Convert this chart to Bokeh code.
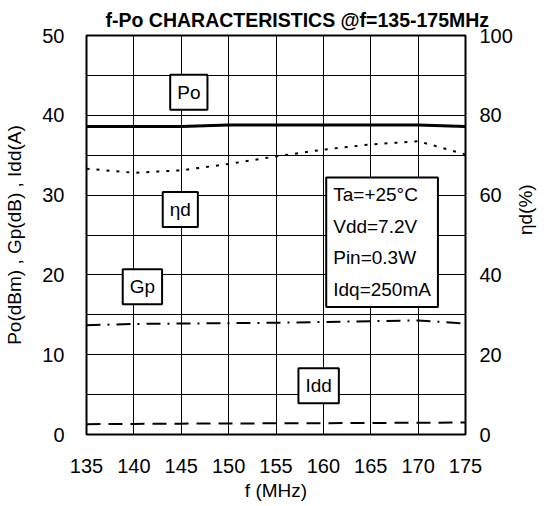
from bokeh.plotting import figure
from bokeh.models import Range1d, LinearAxis, FixedTicker, Label
from bokeh.embed import file_html
from bokeh.resources import INLINE
import math

# Frequency sweep (MHz)
freq = [135, 140, 145, 150, 155, 160, 165, 170, 175]
# Output power (dBm)
po = [38.6, 38.6, 38.6, 38.8, 38.8, 38.8, 38.8, 38.8, 38.6]
# Drain efficiency (%)
eta = [66.6, 65.6, 66.2, 67.8, 69.7, 71.4, 72.7, 73.5, 70.2]
# Power gain (dB)
gp = [13.7, 13.85, 13.9, 13.95, 14.0, 14.1, 14.2, 14.3, 13.9]
# Drain current (A)
idd = [1.3, 1.33, 1.36, 1.38, 1.4, 1.42, 1.45, 1.47, 1.5]

left_ticks = [0, 10, 20, 30, 40, 50]
right_ticks = [0, 20, 40, 60, 80, 100]
x_ticks = [135, 140, 145, 150, 155, 160, 165, 170, 175]
grid_y = [0, 5, 10, 15, 20, 25, 30, 35, 40, 45, 50]

title_text = "f-Po CHARACTERISTICS @f=135-175MHz"
conditions = ["Ta=+25°C", "Vdd=7.2V", "Pin=0.3W", "Idq=250mA"]

FONT = "Liberation Sans"

p = figure(width=549, height=506, output_backend="svg", toolbar_location=None,
           x_range=Range1d(135, 175), y_range=Range1d(0, 50),
           min_border_left=86, min_border_right=75, min_border_top=35,
           min_border_bottom=72)
p.extra_y_ranges = {"eff": Range1d(0, 100)}

p.title.text = title_text
p.title.align = "left"
p.title.offset = 19
p.title.standoff = 10
p.title.text_font = FONT
p.title.text_font_size = "19.5px"
p.title.text_font_style = "bold"
p.title.text_color = "black"

p.outline_line_color = "black"
p.outline_line_width = 2
p.background_fill_color = "white"
p.border_fill_color = "white"

# grid every 5 MHz and every 5 units
p.xgrid.ticker = FixedTicker(ticks=x_ticks)
p.ygrid.ticker = FixedTicker(ticks=grid_y)
for g in (p.xgrid, p.ygrid):
    g.grid_line_color = "black"
    g.grid_line_width = 1
    g.grid_line_alpha = 1.0


def style_axis(ax):
    ax.axis_line_color = None
    ax.major_tick_line_color = None
    ax.minor_tick_line_color = None
    ax.major_label_text_font = FONT
    ax.major_label_text_font_size = "20px"
    ax.major_label_text_color = "black"
    ax.axis_label_text_font = FONT
    ax.axis_label_text_font_size = "19px"
    ax.axis_label_text_font_style = "normal"
    ax.axis_label_text_color = "black"


xa = p.xaxis[0]
xa.ticker = FixedTicker(ticks=x_ticks)
xa.axis_label = "f (MHz)"
style_axis(xa)
xa.major_label_standoff = 18
xa.axis_label_standoff = 4

ya = p.yaxis[0]
ya.ticker = FixedTicker(ticks=left_ticks)
ya.axis_label = "Po(dBm) , Gp(dB) , Idd(A)"
style_axis(ya)
ya.major_label_standoff = 16
ya.axis_label_standoff = 14

ra = LinearAxis(y_range_name="eff", ticker=FixedTicker(ticks=right_ticks),
                axis_label="ηd(%)")
style_axis(ra)
ra.major_label_standoff = 8
ra.axis_label_standoff = 10
# caption reads bottom to top, like the left one
ra.axis_label_orientation = math.pi / 2
p.add_layout(ra, "right")

# curves
p.line(freq, po, line_color="black", line_width=3)
p.line(freq, eta, y_range_name="eff", line_color="black", line_width=2,
       line_dash="3 7")
p.line(freq, gp, line_color="black", line_width=2, line_dash="14 7 2 7")
p.line(freq, idd, line_color="black", line_width=2, line_dash="14 8")


def boxed(x, y, text, align="center", line_height=1.2):
    lab = Label(x=x, y=y, text=text, text_font=FONT, text_font_size="19px",
                text_color="black", text_align=align, text_baseline="middle",
                text_line_height=line_height,
                background_fill_color="white", border_line_color="black",
                border_line_width=2, padding=7)
    p.add_layout(lab)
    return lab


boxed(145.8, 42.9, "Po")
boxed(144.9, 28.2, "ηd")
boxed(140.9, 18.5, "Gp")
boxed(159.5, 6.1, "Idd")
boxed(160.3, 24.1, "\n".join(conditions), align="left", line_height=1.5)

open("out.html", "w").write(file_html(p, INLINE))
